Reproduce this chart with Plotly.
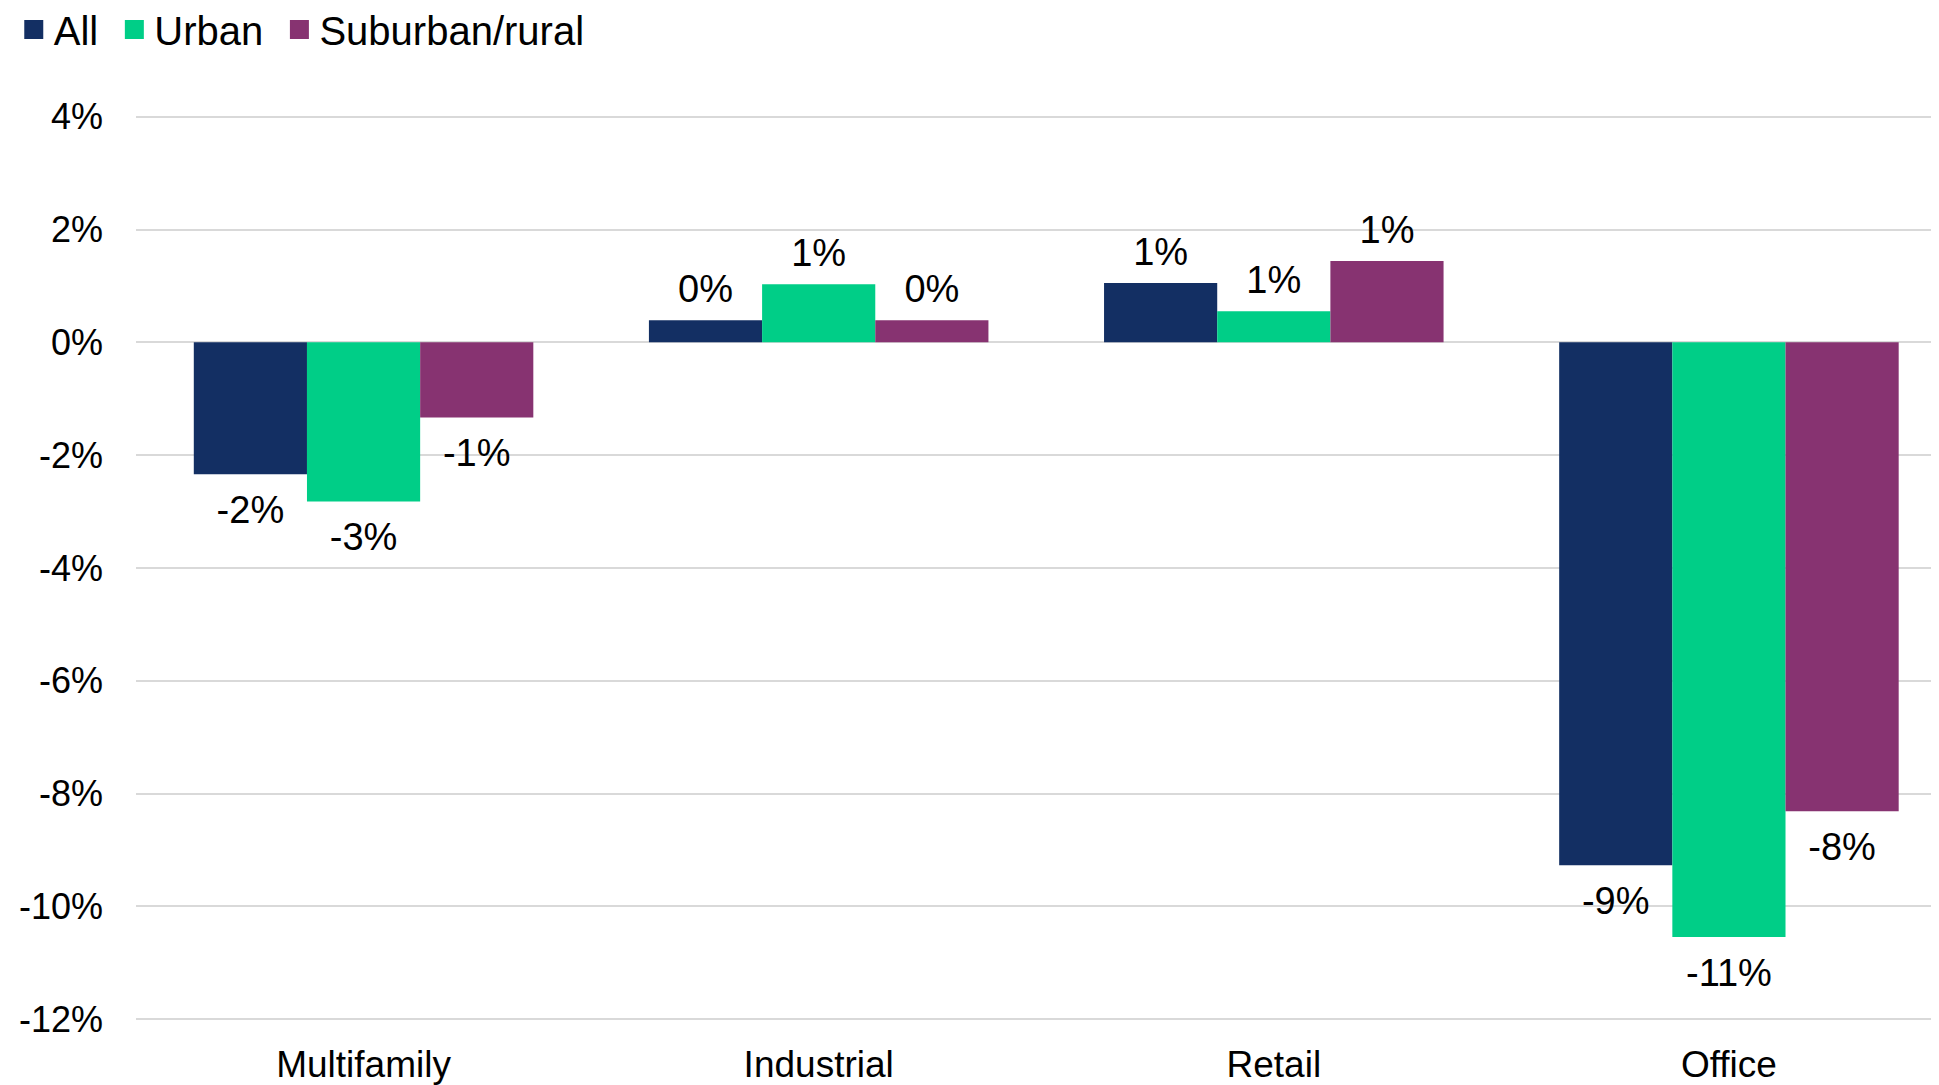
import plotly.graph_objects as go

categories = ["Multifamily", "Industrial", "Retail", "Office"]
series_names = ["All", "Urban", "Suburban/rural"]
all_vals = [-2.34, 0.39, 1.05, -9.27]
urban_vals = [-2.82, 1.03, 0.55, -10.54]
suburban_vals = [-1.33, 0.39, 1.44, -8.31]
colors = ["#132F63", "#00CE87", "#873371"]
y_ticks = [4, 2, 0, -2, -4, -6, -8, -10, -12]
y_tick_labels = ["4%", "2%", "0%", "-2%", "-4%", "-6%", "-8%", "-10%", "-12%"]

FONT = "Liberation Sans, Arial, sans-serif"
GAP = 0.254

fig = go.Figure()
series = list(zip(series_names, [all_vals, urban_vals, suburban_vals], colors))
for name, vals, col in series:
    fig.add_trace(go.Bar(
        x=categories, y=vals, name=name, showlegend=False,
        marker=dict(color=col, line=dict(width=0)),
        hoverinfo="skip",
    ))
# value labels placed just outside the bar ends (grouped like the bars)
for i, (name, vals, col) in enumerate(series):
    fig.add_trace(go.Scatter(
        x=categories, y=vals, mode="markers+text", showlegend=False,
        alignmentgroup="labels", offsetgroup=str(i),
        text=[f"{v:.0f}%" for v in vals],
        textposition=["bottom center" if v < 0 else "top center" for v in vals],
        textfont=dict(family=FONT, size=38, color="#000000"),
        marker=dict(size=[31 if v < 0 else 12 for v in vals], opacity=0),
        cliponaxis=False, hoverinfo="skip",
    ))
# legend entries with square swatches
for name, vals, col in series:
    fig.add_trace(go.Scatter(
        x=[None], y=[None], mode="markers", name=name + "\u00a0",
        alignmentgroup="legend",
        marker=dict(symbol="square", size=18, color=col, line=dict(color=col, width=3)),
        showlegend=True,
    ))

fig.update_layout(
    width=1923, height=1077,
    paper_bgcolor="white", plot_bgcolor="white",
    barmode="group", bargap=GAP, bargroupgap=0,
    scattermode="group", scattergap=GAP,
    margin=dict(l=128, r=0, t=107, b=64, autoexpand=False),
    font=dict(family=FONT, size=36, color="#000000"),
    legend=dict(
        orientation="h", x=0.003, y=0.980, xref="container", yref="container",
        xanchor="left", yanchor="middle",
        font=dict(family=FONT, size=40, color="#000000"),
        itemwidth=30, tracegroupgap=0,
    ),
    xaxis=dict(
        range=[-0.5, 3.444], showgrid=False, zeroline=False, showline=False,
        tickfont=dict(family=FONT, size=37), ticklabelstandoff=18,
        automargin=False,
    ),
    yaxis=dict(
        range=[-12.03, 4.03], tickvals=y_ticks, ticktext=y_tick_labels,
        showgrid=True, gridcolor="#D9D9D9", gridwidth=2,
        zeroline=True, zerolinecolor="#D9D9D9", zerolinewidth=2,
        showline=False, tickfont=dict(family=FONT, size=36),
        ticklabelstandoff=32, automargin=False,
    ),
)

fig.write_html("out.html")
